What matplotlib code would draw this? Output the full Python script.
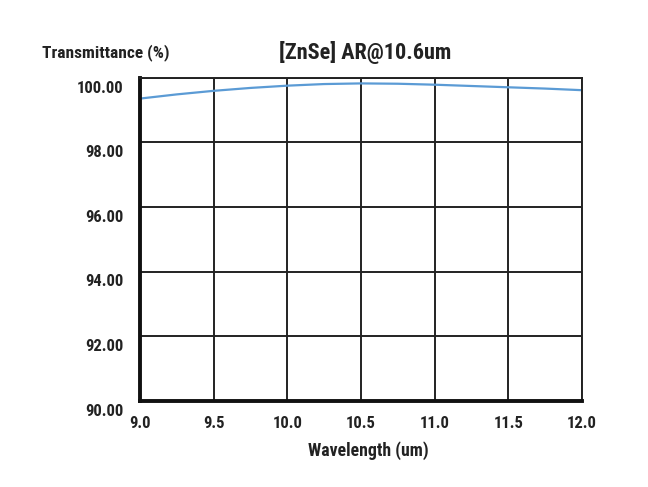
import matplotlib
matplotlib.use('Agg')
import matplotlib.pyplot as plt
import matplotlib.transforms as mtransforms

# --- data ---
wavelength = [9.0, 9.25, 9.5, 9.75, 10.0, 10.25, 10.5, 10.75, 11.0, 11.25, 11.5, 11.75, 12.0]
transmittance = [99.36, 99.49, 99.60, 99.69, 99.76, 99.81, 99.83, 99.82, 99.79, 99.75, 99.71, 99.67, 99.62]
x_ticks = [9.0, 9.5, 10.0, 10.5, 11.0, 11.5, 12.0]
y_ticks = [90, 92, 94, 96, 98, 100]

plt.rcParams['font.family'] = ['Roboto Condensed', 'Roboto', 'DejaVu Sans']
txt = '#222222'

fig = plt.figure(figsize=(6.48, 4.87), dpi=100)
ax = fig.add_axes([0.216, 0.177, 0.682, 0.663])

ax.plot(wavelength, transmittance, color='#5b9bd5', lw=1.6)

ax.set_xlim(9.0, 12.0)
ax.set_ylim(90, 100)
ax.set_xticks(x_ticks)
ax.set_yticks(y_ticks)
ax.set_xticklabels([f'{v:.1f}' for v in x_ticks])
ax.set_yticklabels([f'{v:.2f}' for v in y_ticks])
ax.grid(True, color='#222222', lw=1.4)
ax.set_axisbelow(True)
ax.tick_params(axis='x', length=0, labelsize=12, colors=txt, pad=11)
ax.tick_params(axis='y', length=0, labelsize=12, colors=txt, pad=12)

# y labels sit just under their grid line
shift = mtransforms.ScaledTranslation(0, -2 / 72, fig.dpi_scale_trans)
for lab in ax.get_xticklabels() + ax.get_yticklabels():
    lab.set_fontweight('bold')
for lab in ax.get_yticklabels():
    lab.set_va('top')
    lab.set_transform(lab.get_transform() + shift)

for s in ['top', 'right']:
    ax.spines[s].set_linewidth(1.4)
    ax.spines[s].set_color('#222222')
for s in ['left', 'bottom']:
    ax.spines[s].set_linewidth(2.8)
    ax.spines[s].set_color('#111111')

fig.text(0.563, 0.893, '[ZnSe] AR@10.6um', ha='center', va='center',
         fontsize=16, fontweight='bold', color=txt)
fig.text(0.065, 0.893, 'Transmittance (%)', ha='left', va='center',
         fontsize=12.5, fontweight='bold', color=txt)
fig.text(0.569, 0.075, 'Wavelength (um)', ha='center', va='center',
         fontsize=12.8, fontweight='bold', color=txt)

fig.savefig('out.png', dpi=100)
